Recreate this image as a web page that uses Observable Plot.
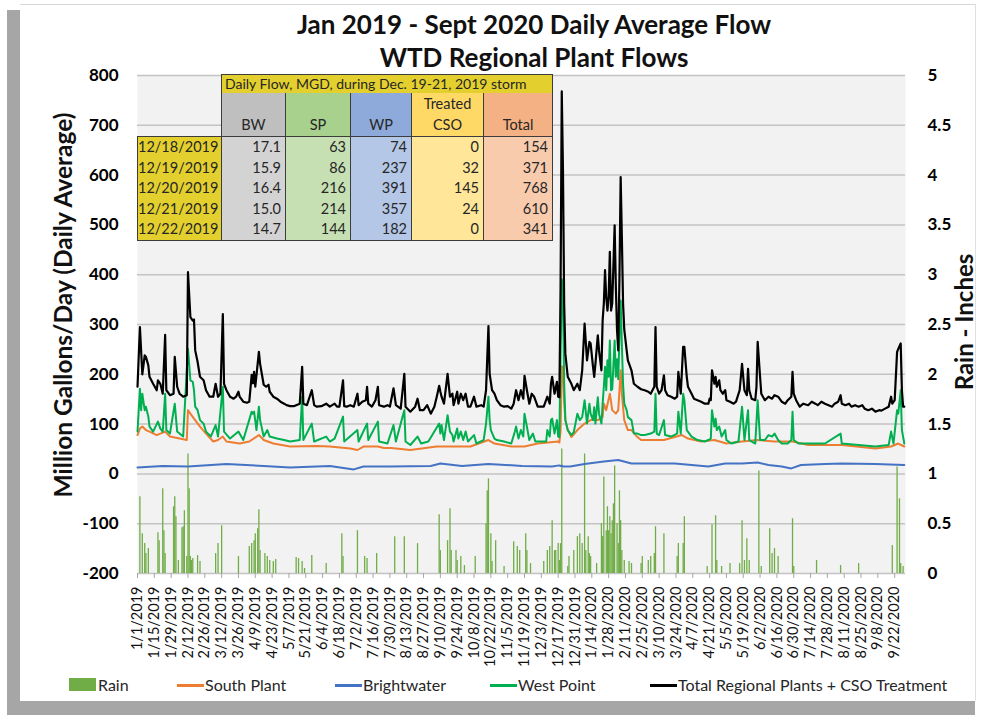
<!DOCTYPE html>
<html>
<head>
<meta charset="utf-8">
<script src="https://cdn.jsdelivr.net/npm/d3@7"></script>
<script src="https://cdn.jsdelivr.net/npm/@observablehq/plot@0.6"></script>
<style>
  html, body { margin: 0; padding: 0; background: #ffffff; overflow: hidden; }
  #wrap { position: relative; width: 981px; height: 715px; font-family: Lato, "Open Sans", sans-serif; }
  .abs { position: absolute; }
  #chart svg { position: absolute; left: 0; top: 0; }
  .cell { position: absolute; box-sizing: border-box; font-size: 14.5px; color: #262626; }
</style>
</head>
<body>
<div id="wrap">
  <div class="abs" style="left:7px;top:10px;width:14px;height:705px;background:#a6a6a6"></div>
  <div class="abs" style="left:7px;top:701px;width:968px;height:14px;background:#a6a6a6"></div>
  <div class="abs" style="left:20px;top:4px;width:956px;height:697px;background:#fff;border-top:1px solid #d8d8d8;border-right:1px solid #e0e0e0;box-sizing:border-box"></div>
  <div id="chart" class="abs" style="left:0;top:0;width:981px;height:715px"></div>
  <div id="overlay" class="abs" style="left:0;top:0;width:981px;height:715px"></div>
</div>
<script>
// ---------------- DATA (day = days since 1/1/2019) ----------------
const chartTitle = ["Jan 2019 - Sept 2020 Daily Average Flow", "WTD Regional Plant Flows"];
const yAxisTitle = "Million Gallons/Day (Daily Average)";
const rainAxisTitle = "Rain - Inches";

const yTicks = [-200, -100, 0, 100, 200, 300, 400, 500, 600, 700, 800];
const rainTickLabels = ["0", "0.5", "1", "1.5", "2", "2.5", "3", "3.5", "4", "4.5", "5"];

const xTickLabels = [
  "1/1/2019","1/15/2019","1/29/2019","2/12/2019","2/26/2019","3/12/2019","3/26/2019","4/9/2019",
  "4/23/2019","5/7/2019","5/21/2019","6/4/2019","6/18/2019","7/2/2019","7/16/2019","7/30/2019",
  "8/13/2019","8/27/2019","9/10/2019","9/24/2019","10/8/2019","10/22/2019","11/5/2019","11/19/2019",
  "12/3/2019","12/17/2019","12/31/2019","1/14/2020","1/28/2020","2/11/2020","2/25/2020","3/10/2020",
  "3/24/2020","4/7/2020","4/21/2020","5/5/2020","5/19/2020","6/2/2020","6/16/2020","6/30/2020",
  "7/14/2020","7/28/2020","8/11/2020","8/25/2020","9/8/2020","9/22/2020"
];

const totalFlow = [[0,175],[2,295],[3,248],[4,200],[6,238],[7,235],[9,218],[10,195],[13,181],[16,168],[17,188],[19,181],[21,161],[23,279],[24,168],[27,158],[30,161],[31,235],[33,175],[35,161],[38,155],[41,158],[42,405],[44,315],[46,308],[47,310],[48,248],[50,225],[52,195],[55,188],[57,168],[60,155],[63,155],[65,181],[67,155],[69,161],[71,321],[72,181],[74,168],[77,155],[80,151],[82,155],[84,165],[85,155],[88,145],[91,143],[93,145],[95,199],[96,182],[97,205],[98,175],[101,245],[102,221],[105,179],[107,175],[109,179],[110,165],[113,155],[116,151],[119,145],[122,141],[124,138],[127,136],[130,136],[132,138],[135,141],[137,215],[138,141],[141,138],[145,168],[147,138],[149,135],[153,136],[157,141],[160,135],[164,141],[166,135],[168,135],[171,188],[172,136],[174,135],[177,138],[180,135],[183,161],[184,138],[187,145],[190,148],[191,175],[192,141],[195,135],[198,148],[200,175],[201,138],[205,135],[208,138],[210,135],[213,172],[215,138],[219,131],[222,201],[223,135],[227,125],[231,135],[233,151],[235,128],[238,128],[241,138],[244,121],[247,135],[249,155],[251,177],[252,165],[253,155],[255,141],[258,201],[260,155],[262,161],[263,138],[266,165],[267,141],[269,161],[271,148],[273,161],[275,135],[277,135],[280,155],[282,135],[286,138],[288,135],[290,168],[292,297],[293,201],[295,168],[297,161],[299,148],[302,138],[305,135],[308,136],[311,131],[313,141],[314,155],[315,168],[317,148],[319,168],[321,151],[322,197],[324,168],[326,141],[328,161],[330,155],[333,135],[338,135],[341,155],[343,141],[344,181],[345,195],[347,161],[349,185],[350,155],[351,154],[352,371],[353,768],[354,610],[355,341],[356,241],[358,195],[361,181],[363,168],[366,181],[368,168],[370,208],[372,302],[374,228],[376,265],[377,262],[379,215],[380,195],[381,221],[383,278],[384,248],[386,208],[387,308],[388,342],[389,409],[390,355],[391,328],[392,355],[393,446],[394,328],[395,342],[397,499],[398,375],[399,288],[400,248],[401,395],[402,596],[403,476],[404,342],[405,290],[407,248],[408,228],[411,208],[413,181],[416,175],[419,170],[422,168],[425,165],[427,161],[430,175],[431,295],[432,175],[434,161],[436,168],[438,198],[439,168],[441,158],[444,155],[447,151],[449,155],[450,205],[452,161],[454,255],[455,255],[457,195],[458,175],[461,161],[463,151],[466,148],[469,145],[472,141],[475,141],[476,151],[477,148],[478,208],[480,181],[481,195],[482,175],[484,188],[485,168],[487,161],[489,168],[490,148],[493,145],[496,141],[498,145],[501,168],[503,221],[505,168],[507,158],[508,211],[509,168],[511,151],[514,148],[515,175],[516,265],[518,195],[519,161],[522,148],[525,155],[528,151],[530,158],[533,155],[536,145],[539,141],[541,148],[544,155],[545,205],[546,161],[548,148],[551,135],[554,141],[558,138],[561,145],[564,141],[566,138],[569,145],[572,141],[575,138],[578,135],[580,141],[583,145],[585,158],[586,141],[589,138],[592,141],[594,135],[597,138],[600,135],[603,138],[605,131],[608,128],[611,131],[614,125],[617,128],[619,127],[622,131],[625,135],[627,155],[628,141],[630,148],[632,245],[633,251],[635,262],[636,168],[637,135],[638,135]];

const westPoint = [[0,85],[2,171],[3,128],[4,161],[6,128],[7,135],[9,115],[10,95],[13,85],[17,105],[19,91],[21,85],[23,161],[24,88],[27,81],[31,141],[33,85],[38,75],[42,251],[44,188],[46,185],[47,168],[48,135],[50,128],[52,108],[55,101],[57,85],[61,75],[65,98],[67,75],[71,175],[72,85],[77,71],[84,85],[88,68],[95,125],[96,121],[97,125],[99,88],[101,135],[102,108],[105,75],[108,88],[110,75],[116,71],[122,68],[127,65],[135,68],[137,155],[138,68],[145,101],[147,65],[157,75],[160,65],[164,71],[171,115],[172,65],[183,88],[184,65],[191,101],[192,68],[200,105],[201,65],[208,61],[213,98],[215,65],[222,128],[223,65],[227,58],[233,75],[236,61],[242,65],[251,101],[252,81],[253,98],[255,68],[258,118],[260,85],[262,78],[263,65],[266,91],[267,71],[269,85],[271,68],[273,85],[275,65],[280,78],[282,61],[288,68],[290,101],[292,155],[293,108],[294,88],[297,71],[299,68],[305,65],[311,61],[314,85],[315,95],[317,71],[319,88],[321,75],[322,121],[324,95],[326,68],[329,81],[331,65],[340,65],[341,88],[343,75],[344,108],[345,111],[347,81],[349,108],[350,75],[351,74],[352,237],[353,391],[354,357],[355,182],[356,108],[358,88],[361,78],[363,84],[366,121],[368,108],[370,114],[372,148],[374,101],[376,141],[377,121],[379,108],[380,134],[381,101],[383,154],[384,121],[386,101],[387,140],[388,175],[389,215],[390,168],[391,228],[392,195],[393,268],[394,168],[395,170],[397,268],[398,195],[399,230],[400,190],[401,275],[402,348],[403,260],[404,180],[405,141],[407,128],[408,114],[411,108],[413,81],[416,81],[419,78],[422,78],[427,81],[430,85],[431,161],[432,81],[434,78],[438,108],[439,78],[444,75],[449,81],[450,125],[452,81],[454,161],[455,148],[457,88],[461,75],[466,68],[472,65],[475,68],[477,71],[478,128],[480,95],[481,111],[482,88],[484,95],[486,75],[489,88],[490,68],[494,61],[500,65],[503,135],[505,68],[508,128],[509,68],[514,61],[516,148],[518,68],[522,68],[525,78],[528,75],[530,81],[533,68],[536,61],[541,61],[544,68],[545,125],[546,68],[550,61],[558,61],[572,61],[585,81],[586,61],[600,58],[614,55],[625,58],[627,85],[629,61],[632,128],[633,121],[635,168],[636,88],[638,61]];

const southPlant = [[0,78],[2,91],[4,95],[7,88],[10,85],[16,78],[23,85],[27,75],[35,71],[41,68],[42,128],[44,121],[47,111],[52,95],[57,81],[63,65],[67,68],[71,75],[74,65],[85,61],[93,65],[101,78],[105,68],[113,61],[127,55],[149,56],[160,55],[177,51],[183,48],[188,55],[200,55],[205,52],[211,52],[227,48],[249,55],[266,55],[277,55],[292,68],[297,61],[311,55],[322,55],[333,61],[350,65],[351,63],[352,86],[353,216],[354,214],[355,144],[356,108],[358,88],[361,74],[366,88],[372,101],[377,108],[383,108],[387,114],[388,141],[390,128],[393,161],[395,128],[398,121],[400,128],[402,208],[403,161],[405,108],[408,88],[411,88],[416,74],[419,68],[431,68],[438,68],[453,78],[458,71],[469,65],[480,68],[490,61],[503,65],[516,68],[530,65],[545,65],[558,58],[586,58],[614,51],[627,55],[633,61],[638,55]];

const brightwater = [[0,13],[21,16],[42,15],[74,20],[105,16],[127,13],[160,16],[180,9],[188,15],[210,15],[244,16],[252,21],[270,16],[292,20],[320,16],[345,15],[351,17.1],[352,15.9],[353,16.4],[354,15.0],[355,14.7],[360,15],[372,20],[388,25],[400,28],[411,21],[419,21],[433,21],[447,21],[461,18],[475,15],[489,21],[503,21],[516,23],[525,18],[536,15],[544,11],[552,18],[572,20],[586,21],[614,20],[638,18]];

const rainInches = [[2,0.77],[4,0.4],[6,0.3],[7,0.2],[9,0.25],[17,0.41],[18,0.33],[21,0.85],[22,0.43],[23,0.2],[30,0.67],[31,0.77],[32,0.57],[34,0.13],[37,0.46],[38,0.47],[39,0.63],[41,0.17],[42,1.2],[43,0.85],[44,0.17],[45,0.13],[46,0.15],[50,0.18],[52,0.12],[65,0.2],[67,0.3],[70,0.48],[84,0.17],[93,0.27],[95,0.3],[97,0.33],[98,0.4],[100,0.45],[101,0.64],[102,0.23],[106,0.2],[108,0.17],[110,0.13],[113,0.12],[115,0.14],[132,0.16],[134,0.15],[137,0.12],[139,0.05],[145,0.18],[157,0.1],[170,0.4],[171,0.17],[183,0.43],[189,0.17],[191,0.15],[199,0.2],[214,0.37],[222,0.37],[233,0.3],[251,0.59],[252,0.23],[258,0.33],[260,0.65],[261,0.23],[265,0.23],[266,0.13],[269,0.17],[272,0.08],[281,0.17],[290,0.5],[291,0.83],[292,0.95],[294,0.4],[295,0.12],[298,0.33],[305,0.07],[313,0.32],[316,0.27],[318,0.23],[323,0.4],[324,0.23],[327,0.1],[338,0.12],[341,0.23],[343,0.27],[345,0.53],[347,0.23],[348,0.23],[350,0.3],[351,0.13],[352,0.3],[353,1.25],[358,0.07],[359,0.17],[363,0.23],[366,0.37],[368,0.4],[370,0.3],[372,1.2],[373,0.23],[375,0.37],[376,0.2],[377,0.17],[382,0.1],[386,0.5],[387,0.37],[388,0.97],[390,0.43],[391,0.67],[392,0.43],[393,0.57],[394,0.4],[395,0.53],[396,0.7],[397,1.08],[399,0.5],[400,0.3],[401,0.83],[402,0.53],[403,0.23],[405,0.13],[409,0.12],[411,0.1],[419,0.1],[420,0.17],[425,0.13],[427,0.17],[430,0.2],[431,0.47],[438,0.4],[449,0.17],[450,0.3],[454,0.3],[455,0.57],[474,0.07],[478,0.49],[481,0.58],[482,0.13],[486,0.07],[493,0.1],[501,0.1],[503,0.53],[505,0.13],[507,0.35],[509,0.13],[517,1.03],[519,0.07],[526,0.45],[528,0.2],[530,0.25],[533,0.17],[545,0.55],[546,0.07],[565,0.13],[585,0.08],[600,0.1],[628,0.28],[632,1.07],[634,0.75],[635,0.1],[637,0.07]];

// storm table
const tableTitle = "Daily Flow, MGD, during Dec. 19-21, 2019 storm";
const tableHeaders = [["BW"], ["SP"], ["WP"], ["Treated", "CSO"], ["Total"]];
const tableDates = ["12/18/2019", "12/19/2019", "12/20/2019", "12/21/2019", "12/22/2019"];
const tableBW = ["17.1", "15.9", "16.4", "15.0", "14.7"];
const tableSP = [63, 86, 216, 214, 144];
const tableWP = [74, 237, 391, 357, 182];
const tableCSO = [0, 32, 145, 24, 0];
const tableTotal = [154, 371, 768, 610, 341];

const legendItems = [
  {label: "Rain", color: "#70ad47", kind: "box"},
  {label: "South Plant", color: "#ed7d31", kind: "line"},
  {label: "Brightwater", color: "#4472c4", kind: "line"},
  {label: "West Point", color: "#00b050", kind: "line"},
  {label: "Total Regional Plants + CSO Treatment", color: "#000000", kind: "line"}
];

// ---------------- CHART ----------------
const dayDate = d => new Date(Date.UTC(2019, 0, 1 + d));
const rows = arr => arr.map(([d, v]) => ({date: dayDate(d), value: v}));
const parseMDY = s => { const [m, d, y] = s.split("/").map(Number); return new Date(Date.UTC(y, m - 1, d)); };
const xTickDates = xTickLabels.map(parseMDY);
const labelByTime = new Map(xTickDates.map((d, i) => [+d, xTickLabels[i]]));
const rainLabelByTick = new Map(yTicks.map((t, i) => [t, rainTickLabels[i]]));

const plot = Plot.plot({
  width: 981, height: 715,
  marginLeft: 137, marginRight: 76, marginTop: 75, marginBottom: 142,
  style: {background: "transparent", fontFamily: "Lato, sans-serif", color: "#000"},
  x: {type: "utc", domain: [dayDate(0), dayDate(639)]},
  y: {domain: [-200, 800]},
  marks: [
    Plot.frame({fill: "#f2f2f2", stroke: null}),
    Plot.gridY(yTicks, {stroke: "#c3c3c3", strokeOpacity: 1, strokeWidth: 1.5}),
    Plot.ruleX(rows(rainInches), {x: "date", y1: -200, y2: d => -200 + d.value * 200, stroke: "#70ad47", strokeWidth: 1.3}),
    Plot.line(rows(brightwater), {x: "date", y: "value", stroke: "#4472c4", strokeWidth: 2}),
    Plot.line(rows(southPlant), {x: "date", y: "value", stroke: "#ed7d31", strokeWidth: 2}),
    Plot.line(rows(westPoint), {x: "date", y: "value", stroke: "#00b050", strokeWidth: 2}),
    Plot.line(rows(totalFlow), {x: "date", y: "value", stroke: "#000", strokeWidth: 2.2}),
    Plot.axisY(yTicks, {anchor: "left", tickSize: 0, tickPadding: 19, fontSize: 17, fontWeight: "bold", label: null, tickFormat: d => String(d)}),
    Plot.axisY(yTicks, {anchor: "right", tickSize: 0, tickPadding: 22, fontSize: 17, fontWeight: "bold", label: null, tickFormat: d => rainLabelByTick.get(d)}),
    Plot.axisX(xTickDates, {tickRotate: -90, tickSize: 5, tickPadding: 8, fontSize: 14.5, label: null, stroke: "#a6a6a6", fill: "#111", tickFormat: d => labelByTime.get(+d)})
  ]
});
document.getElementById("chart").appendChild(plot);

// ---------------- OVERLAY TEXT, TABLE, LEGEND ----------------
const ov = document.getElementById("overlay");
function add(html, css) { const e = document.createElement("div"); e.className = "abs"; e.innerHTML = html; e.style.cssText += css; ov.appendChild(e); return e; }

add(chartTitle[0], "left:234px;top:11px;width:600px;text-align:center;font-weight:bold;font-size:26px;line-height:26px;color:#111;white-space:nowrap");
add(chartTitle[1], "left:234px;top:44px;width:600px;text-align:center;font-weight:bold;font-size:26px;line-height:26px;color:#111;white-space:nowrap");
add(yAxisTitle, "left:62px;top:305px;transform:translate(-50%,-50%) rotate(-90deg);font-weight:bold;font-size:24.5px;white-space:nowrap;color:#111");
add(rainAxisTitle, "left:963px;top:322px;transform:translate(-50%,-50%) rotate(-90deg);font-weight:bold;font-size:24px;white-space:nowrap;color:#111");

// table
const colX = [137, 221, 285, 350, 411, 483, 552];
const yTitle = 74, yHead = 93, yData = 136, rowH = 20.6;
const border = "#3c3c3c";
const headBg = ["#bfbfbf", "#a9d18e", "#8eaadb", "#ffd966", "#f4b183"];
const dataBg = ["#d3d3d3", "#c6e0b4", "#b4c7e7", "#ffe699", "#f8cbad"];
const yellow = "#e3d02e";
const cols = [tableBW, tableSP, tableWP, tableCSO, tableTotal];
function cell(html, css) { const e = document.createElement("div"); e.className = "cell"; e.innerHTML = html; e.style.cssText += css; ov.appendChild(e); return e; }

cell(tableTitle, `left:${colX[1]}px;top:${yTitle}px;width:${colX[6]-colX[1]+1}px;height:${yHead-yTitle+1}px;background:${yellow};border:1px solid ${border};padding-left:3px;line-height:17px;font-size:14px;white-space:nowrap`);
for (let j = 0; j < 5; j++) {
  const w = colX[j + 2] - colX[j + 1] + 1;
  cell(tableHeaders[j].join("<br>"), `left:${colX[j+1]}px;top:${yHead}px;width:${w}px;height:${yData-yHead+1}px;background:${headBg[j]};border:1px solid ${border};border-top:none;display:flex;align-items:flex-end;justify-content:center;text-align:center;line-height:21px;padding-bottom:1px`);
  const lines = cols[j].map(v => `<div style="height:${rowH}px;line-height:${rowH}px">${v}</div>`).join("");
  cell(lines, `left:${colX[j+1]}px;top:${yData}px;width:${w}px;height:${rowH*5+2}px;background:${dataBg[j]};border:1px solid ${border};text-align:right;padding-right:4px`);
}
const dateLines = tableDates.map(v => `<div style="height:${rowH}px;line-height:${rowH}px">${v}</div>`).join("");
cell(dateLines, `left:${colX[0]}px;top:${yData}px;width:${colX[1]-colX[0]+1}px;height:${rowH*5+2}px;background:${yellow};border:1px solid ${border};text-align:right;padding-right:3px`);

// legend
const legendX = [69, 177, 335, 490, 650];
legendItems.forEach((it, i) => {
  const x = legendX[i];
  if (it.kind === "box") add("", `left:${x}px;top:678px;width:27px;height:13px;background:${it.color}`);
  else add("", `left:${x}px;top:684px;width:27px;height:2.5px;background:${it.color}`);
  add(it.label, `left:${x + (it.kind === "box" ? 29 : 28)}px;top:674px;font-size:16px;line-height:21px;color:#262626;white-space:nowrap`);
});
</script>
</body>
</html>
